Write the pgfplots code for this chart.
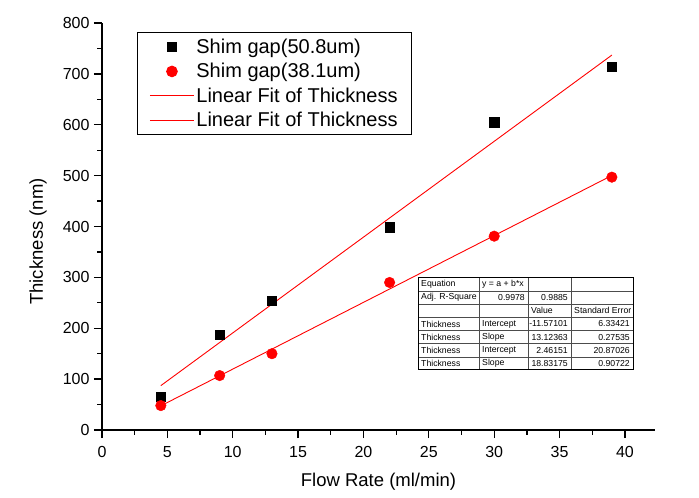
\documentclass[border=0pt]{standalone}
\usepackage{fontspec}
\setmainfont{Liberation Sans}
\usepackage{pgfplots}
\pgfplotsset{compat=1.18}
\pgfplotsset{
  mylegmark/.style={legend image code/.code={\draw[mark repeat=2,mark phase=2,##1] plot coordinates {(0pt,0pt) (22pt,0pt) (44pt,0pt)};}},
  myleglne/.style={legend image code/.code={\draw[##1] (0pt,0pt) -- (44pt,0pt);}},
}
\begin{document}
\begin{tikzpicture}[x=1pt,y=1pt]
\path[use as bounding box] (-102,-68) rectangle (597,430);
\begin{axis}[
  at={(0,0)}, anchor=south west,
  scale only axis, width=553pt, height=407pt,
  xmin=0, xmax=42.3, ymin=0, ymax=800,
  axis x line=bottom, axis y line=left,
  axis line style={-, line width=1.3pt},
  tick align=outside,
  major tick length=8pt, minor tick length=4.5pt,
  every tick/.style={black, line width=1.3pt},
  xtick={0,5,...,40}, ytick={0,100,...,800},
  minor x tick num=1, minor y tick num=1,
  /pgf/number format/assume math mode=true,
  tick label style={font=\fontsize{16}{18}\selectfont},
  xticklabel style={yshift=-5pt},
  yticklabel style={xshift=-1pt},
  every axis x label/.style={at={(axis description cs:0.5,0)}, yshift=-52pt, anchor=center},
  every axis y label/.style={at={(axis description cs:0,0.5)}, xshift=-64pt, yshift=-15pt, rotate=90, anchor=center},
  label style={font=\fontsize{18.5}{20}\selectfont},
  xlabel={Flow Rate (ml/min)},
  ylabel={Thickness (nm)},
  legend style={at={(rel axis cs:0.0633,0.978)}, anchor=north west,
    draw=black, line width=1pt, inner xsep=12pt, inner ysep=4.5pt,
    font=\fontsize{20}{22}\selectfont, row sep=4.5pt,
    /tikz/every even column/.append style={column sep=0pt}},
  legend cell align=left,
]
\addplot[only marks, mark=square*, mark size=4.7pt, black, mylegmark]
  coordinates {(4.5,66) (9,187) (13,254) (22,399) (30,605) (39,714)};
\addlegendentry{Shim gap(50.8um)}
\addplot[only marks, mark=*, mark size=5.3pt, red, mark options={fill=red, draw=red}, mylegmark]
  coordinates {(4.5,48) (9,107) (13,150) (22,290) (30,381) (39,497)};
\addlegendentry{Shim gap(38.1um)}
\addplot[red, line width=0.9pt, no marks, myleglne]
  coordinates {(4.5,87.21) (39,736.90)};
\addlegendentry{Linear Fit of Thickness}
\addplot[red, line width=0.9pt, no marks, myleglne]
  coordinates {(4.5,47.48) (39,500.25)};
\addlegendentry{Linear Fit of Thickness}
\end{axis}
% fit result table (annotation)
\begin{scope}[shift={(316,152)}, font=\fontsize{8.7}{10}\selectfont]
  \fill[white] (0,0) rectangle (215,-92);
  \foreach \r in {1,...,6} {\draw[gray!60!black, line width=0.6pt] (0,-13.14*\r) -- (215,-13.14*\r);}
  \foreach \c in {61,110,153} {\draw[gray!60!black, line width=0.6pt] (\c,0) -- (\c,-92);}
  \draw[black, line width=1pt] (0,0) rectangle (215,-92);
  % column 1
  \node[anchor=west,inner sep=0pt] at (3,-6.57) {Equation};
  \node[anchor=west,inner sep=0pt] at (3,-19.71) {Adj. R-Square};
  \node[anchor=west,inner sep=0pt] at (3,-45.99) {Thickness};
  \node[anchor=west,inner sep=0pt] at (3,-59.13) {Thickness};
  \node[anchor=west,inner sep=0pt] at (3,-72.27) {Thickness};
  \node[anchor=west,inner sep=0pt] at (3,-85.41) {Thickness};
  % column 2
  \node[anchor=west,inner sep=0pt] at (64,-6.57) {y = a + b*x};
  \node[anchor=east,inner sep=0pt] at (107,-19.71) {0.9978};
  \node[anchor=west,inner sep=0pt] at (64,-45.99) {Intercept};
  \node[anchor=west,inner sep=0pt] at (64,-59.13) {Slope};
  \node[anchor=west,inner sep=0pt] at (64,-72.27) {Intercept};
  \node[anchor=west,inner sep=0pt] at (64,-85.41) {Slope};
  % column 3
  \node[anchor=east,inner sep=0pt] at (150,-19.71) {0.9885};
  \node[anchor=west,inner sep=0pt] at (113,-32.85) {Value};
  \node[anchor=east,inner sep=0pt] at (150,-45.99) {-11.57101};
  \node[anchor=east,inner sep=0pt] at (150,-59.13) {13.12363};
  \node[anchor=east,inner sep=0pt] at (150,-72.27) {2.46151};
  \node[anchor=east,inner sep=0pt] at (150,-85.41) {18.83175};
  % column 4
  \node[anchor=west,inner sep=0pt] at (156,-32.85) {Standard Error};
  \node[anchor=east,inner sep=0pt] at (212,-45.99) {6.33421};
  \node[anchor=east,inner sep=0pt] at (212,-59.13) {0.27535};
  \node[anchor=east,inner sep=0pt] at (212,-72.27) {20.87026};
  \node[anchor=east,inner sep=0pt] at (212,-85.41) {0.90722};
\end{scope}
\end{tikzpicture}
\end{document}
